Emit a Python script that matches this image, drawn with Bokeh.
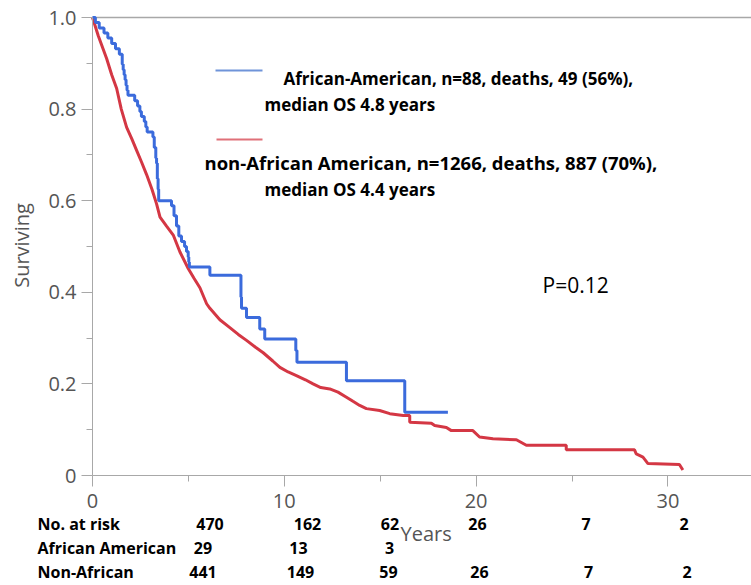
import math
from bokeh.plotting import figure
from bokeh.models import Range1d, FixedTicker, ColumnDataSource
from bokeh.core.properties import value
from bokeh.embed import file_html
from bokeh.resources import INLINE

# ---- data ----
aa_time = [0, 0.15, 0.35, 0.6, 0.8, 1.0, 1.2, 1.4, 1.55, 1.6, 1.65, 1.7, 1.75, 1.8, 1.85,
           2.2, 2.35, 2.47, 2.55, 2.7, 2.78, 2.85, 3.15, 3.22, 3.3, 3.34, 3.38, 3.42, 3.45,
           4.12, 4.25, 4.38, 4.5, 4.64, 4.8, 4.9, 4.99, 5.02, 5.05, 6.12, 7.74, 7.77, 8.03,
           8.72, 8.98, 10.6, 10.66, 13.24, 16.28, 18.53]
aa_surv = [1.0, 0.989, 0.977, 0.966, 0.955, 0.943, 0.932, 0.92, 0.898, 0.886, 0.875, 0.864, 0.852, 0.841, 0.83,
           0.818, 0.807, 0.795, 0.784, 0.773, 0.761, 0.75, 0.739, 0.716, 0.693, 0.682, 0.648, 0.625, 0.6,
           0.589, 0.567, 0.545, 0.523, 0.511, 0.5, 0.489, 0.477, 0.466, 0.455, 0.437, 0.39, 0.365, 0.345,
           0.32, 0.298, 0.273, 0.247, 0.207, 0.138, 0.138]

# non-African American curve: points (corners in the stepped tail)
non_time = [0, 0.3, 0.74, 1.0, 1.26, 1.5, 1.78, 2.05, 2.3, 2.55, 2.82, 3.1, 3.34, 3.52, 3.85, 4.21,
            4.56, 4.99, 5.3, 5.6, 5.95, 6.12, 6.64, 7.16, 7.6, 8.03, 8.5, 8.9, 9.4, 9.77, 10.2, 10.63,
            11.1, 11.5, 11.9, 12.37, 12.8, 13.24, 13.58, 13.93, 14.28, 14.97, 15.5, 16.2, 16.54, 16.54,
            17.67, 17.84, 18.45, 18.71, 19.83, 20.18, 20.88, 22.1, 22.62, 24.7, 24.7, 28.26, 28.35,
            28.7, 28.96, 30.6, 30.78]
non_surv = [1.0, 0.96, 0.91, 0.875, 0.845, 0.80, 0.76, 0.735, 0.71, 0.685, 0.657, 0.625, 0.593, 0.564, 0.545, 0.525,
            0.488, 0.452, 0.43, 0.41, 0.375, 0.365, 0.34, 0.323, 0.308, 0.295, 0.28, 0.268, 0.25, 0.236, 0.226, 0.218,
            0.209, 0.2, 0.192, 0.189, 0.182, 0.171, 0.162, 0.153, 0.146, 0.142, 0.135, 0.131, 0.131, 0.116,
            0.114, 0.109, 0.105, 0.098, 0.098, 0.084, 0.080, 0.078, 0.066, 0.066, 0.056, 0.056, 0.047,
            0.040, 0.026, 0.024, 0.012]

x_major = [0, 10, 20, 30]
x_minor = [5, 15, 25]
y_major = [0, 0.2, 0.4, 0.6, 0.8, 1.0]
y_minor = [0.1, 0.3, 0.5, 0.7, 0.9]
y_labels = {0: "0", 0.2: "0.2", 0.4: "0.4", 0.6: "0.6", 0.8: "0.8", 1.0: "1.0"}

legend_aa = ["African-American, n=88, deaths,  49 (56%),", "median OS 4.8 years"]
legend_non = ["non-African American, n=1266, deaths, 887 (70%),", "median OS 4.4 years"]
p_text = "P=0.12"
x_title = "Years"
y_title = "Surviving"

risk_rows = ["No. at risk", "African American", "Non-African"]
risk_total = [470, 162, 62, 26, 7, 2]
risk_aa = [29, 13, 3]
risk_non = [441, 149, 59, 26, 7, 2]

# ---- layout: the frame fills the whole canvas; page pixel -> data helpers ----
W, H = 751, 585
AX_LEFT_PX, AX_BOTTOM_PX, AX_TOP_PX = 92, 475, 17
px_per_x = 19.18
px_per_y = (AX_BOTTOM_PX - AX_TOP_PX) / 1.0
BASE_SHIFT = 0.38   # empirical: rendered baseline sits ~0.38 em below the anchor


def dx(px):
    return (px - AX_LEFT_PX) / px_per_x


def dy(py):
    return (AX_BOTTOM_PX - py) / px_per_y


def dyb(py, fs):
    # baseline at page pixel py for a font of size fs px
    return dy(py - BASE_SHIFT * fs)


X0, X1 = dx(0), dx(W)
Y0, Y1 = dy(H), dy(0)

BLUE = "#3b6bdc"
RED = "#d43744"
GRAY = "#a8a8a8"
TXT = "#555555"
FONT = "Open Sans"

p = figure(width=W, height=H, output_backend="svg", toolbar_location=None,
           x_range=Range1d(X0, X1), y_range=Range1d(Y0, Y1),
           min_border_left=0, min_border_right=0, min_border_top=0, min_border_bottom=0)
p.outline_line_color = None
p.grid.grid_line_color = None

for ax in (p.xaxis, p.yaxis):
    ax.fixed_location = 0
    ax.axis_line_color = GRAY
    ax.major_tick_line_color = GRAY
    ax.minor_tick_line_color = GRAY
    ax.major_tick_in = 0
    ax.minor_tick_in = 0
    ax.major_tick_out = 11
    ax.minor_tick_out = 6
    ax.major_label_text_font = FONT
    ax.major_label_text_font_size = "20px"
    ax.major_label_text_color = TXT

p.xaxis.bounds = (0, X1)
p.yaxis.bounds = (0, 1.0)
p.xaxis.ticker = FixedTicker(ticks=x_major, minor_ticks=x_minor)
p.yaxis.ticker = FixedTicker(ticks=y_major, minor_ticks=y_minor)
p.yaxis.major_label_overrides = y_labels
p.xaxis.major_label_standoff = 7
p.yaxis.major_label_standoff = 5

# top frame line
p.segment(x0=[0], y0=[1.0], x1=[X1], y1=[1.0], line_color=GRAY, line_width=1.5)

p.line(non_time, non_surv, line_color=RED, line_width=3)
p.step(aa_time, aa_surv, mode="after", line_color=BLUE, line_width=3)

# legend keys
p.segment(x0=[dx(215)], y0=[dy(70)], x1=[dx(262)], y1=[dy(70)], line_color="#6f94d9", line_width=2)
p.segment(x0=[dx(216)], y0=[dy(139)], x1=[dx(262)], y1=[dy(139)], line_color="#e07079", line_width=2)

leg_specs = [(legend_aa[0], 283, 84.5, 17), (legend_aa[1], 264, 110.5, 17),
             (legend_non[0], 204, 169.5, 18.5), (legend_non[1], 264, 195.5, 17)]
for txt, lx, by, fs in leg_specs:
    p.text(x=[dx(lx)], y=[dyb(by, fs)], text=[txt], text_font=value(FONT), text_font_size=f"{fs}px",
           text_font_style="bold", text_color="black", text_baseline="alphabetic", text_align="left")

p.text(x=[dx(542)], y=[dyb(292.5, 21)], text=[p_text], text_font=value(FONT), text_font_size="21px",
       text_color="black", text_baseline="alphabetic", text_align="left")

# axis titles
p.text(x=[dx(29 - BASE_SHIFT * 20)], y=[dy(245)], text=[y_title], angle=math.pi / 2,
       text_font=value(FONT), text_font_size="20px", text_color=TXT,
       text_baseline="alphabetic", text_align="center")
p.text(x=[dx(400)], y=[dyb(541, 20)], text=[x_title], text_font=value(FONT), text_font_size="20px",
       text_color=TXT, text_baseline="alphabetic", text_align="left")

# number-at-risk table
FS_T = 16
row_base = [530, 554, 578]
p.text(x=[dx(37)] * 3, y=[dyb(b, FS_T) for b in row_base], text=risk_rows, text_font=value(FONT),
       text_font_size=f"{FS_T}px", text_font_style="bold", text_color="black",
       text_baseline="alphabetic", text_align="left")

cols_total = [209.5, 307, 389.5, 477, 585.5, 683.5]
cols_aa = [202.5, 298, 389]
cols_non = [202.5, 300, 388, 479, 588, 686.5]
xs, ys, txts = [], [], []
for vals, cols, by in ((risk_total, cols_total, row_base[0]), (risk_aa, cols_aa, row_base[1]),
                       (risk_non, cols_non, row_base[2])):
    for v, cx in zip(vals, cols):
        xs.append(dx(cx))
        ys.append(dyb(by, FS_T))
        txts.append(str(v))
src = ColumnDataSource(dict(x=xs, y=ys, text=txts))
p.text(x="x", y="y", text="text", source=src, text_font=value(FONT), text_font_size=f"{FS_T}px",
       text_font_style="bold", text_color="black", text_baseline="alphabetic", text_align="center")

open("out.html", "w").write(file_html(p, INLINE))
